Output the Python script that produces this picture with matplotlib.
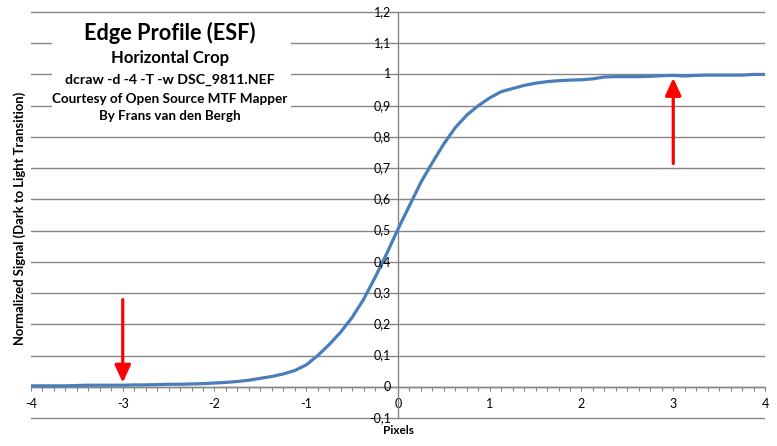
"""
Edge profile (ESF) chart, Excel style
"""
import numpy as np
import matplotlib
matplotlib.use("Agg")
import matplotlib.pyplot as plt
from matplotlib.patches import Rectangle
from matplotlib.ticker import FuncFormatter, MultipleLocator

# data: edge spread function, sampled every 1/8 pixel
pixels = np.arange(-4, 4.0001, 0.125)
signal = [0.003, 0.003, 0.003, 0.003, 0.004, 0.005, 0.005, 0.005,
          0.005, 0.006, 0.006, 0.007, 0.008, 0.008, 0.009, 0.010,
          0.012, 0.014, 0.017, 0.021, 0.027, 0.033, 0.041, 0.052,
          0.070, 0.100, 0.135, 0.175, 0.222, 0.280, 0.350, 0.425,
          0.505, 0.580, 0.655, 0.718, 0.778, 0.830, 0.870, 0.900,
          0.925, 0.945, 0.955, 0.965, 0.972, 0.977, 0.980, 0.982,
          0.983, 0.986, 0.992, 0.993, 0.993, 0.993, 0.994, 0.996,
          0.997, 0.995, 0.997, 0.998, 0.998, 0.998, 0.998, 1.000,
          1.000]

y_ticks = [-0.1, 0.0, 0.1, 0.2, 0.3, 0.4, 0.5, 0.6, 0.7, 0.8, 0.9, 1.0, 1.1, 1.2]
y_labels = ['-0,1', '0', '0,1', '0,2', '0,3', '0,4', '0,5', '0,6', '0,7',
            '0,8', '0,9', '1', '1,1', '1,2']

# red arrows: (x, tail value, tip value)
arrows = [(-3, 0.279, 0.013), (3, 0.715, 0.989)]

title_lines = ["Edge Profile (ESF)", "Horizontal Crop",
               "dcraw -d -4 -T -w DSC_9811.NEF",
               "Courtesy of Open Source MTF Mapper", "By Frans van den Bergh"]

plt.rcParams['font.family'] = ['Lato', 'DejaVu Sans']
grey = '#868686'

# -0.1 sits at pixel row 418, 1.2 at row 12
ppu = 406 / 1.3
y_lo, y_hi = -0.115, 1.205
bot_px = 418 + (-0.1 - y_lo) * ppu
top_px = 12 - (y_hi - 1.2) * ppu

fig = plt.figure(figsize=(7.77, 4.46), dpi=100)
ax = fig.add_axes([31 / 777, 1 - bot_px / 446, 734 / 777, (bot_px - top_px) / 446])
ax.set_xlim(-4, 4)
ax.set_ylim(y_lo, y_hi)

# horizontal grid and value labels (left of the vertical axis at x=0)
ax.set_yticks([])
for v, lab in zip(y_ticks, y_labels):
    ax.axhline(v, color=grey, lw=1.0, zorder=0.5)
    px, py = ax.transData.transform((0, v))
    fig.text((px - 7) / 777, py / 446, lab, ha='right', va='center', fontsize=9)

for s in ['top', 'right']:
    ax.spines[s].set_visible(False)
ax.spines['left'].set_position(('data', 0))
ax.spines['bottom'].set_position(('data', 0))
ax.spines['left'].set_bounds(-0.1, 1.2)
for s in ['left', 'bottom']:
    ax.spines[s].set_color(grey)
    ax.spines[s].set_linewidth(1.0)

ax.xaxis.set_major_locator(MultipleLocator(1))
ax.xaxis.set_minor_locator(MultipleLocator(0.125))
ax.xaxis.set_major_formatter(FuncFormatter(lambda v, p: '%d' % round(v)))
ax.tick_params(axis='x', which='both', direction='out', length=3, width=0.8,
               color=grey, labelsize=9, pad=5)

ax.plot(pixels, signal, color='#4A7EBB', lw=2.3, solid_capstyle='butt', zorder=3)

for x, tail, tip in arrows:
    ax.annotate('', xy=(x, tip), xytext=(x, tail),
                arrowprops=dict(arrowstyle='-|>,head_length=0.7,head_width=0.32',
                                color='red', lw=2.3, mutation_scale=15,
                                shrinkA=0, shrinkB=0), zorder=4)

# axis titles
fig.text(398 / 777, 1 - 431 / 446, 'Pixels', ha='center', va='center',
         fontsize=8.5, fontweight='bold')
fig.text(20 / 777, 1 - 218 / 446, 'Normalized Signal (Dark to Light Transition)',
         rotation=90, ha='center', va='center', fontsize=9.4, fontweight='bold')

# title box (white, covers the grid lines)
fig.add_artist(Rectangle((52 / 777, 1 - 130 / 446), 239 / 777, 115 / 446,
                         transform=fig.transFigure, facecolor='white',
                         edgecolor='none'))
sizes = [15.7, 12, 10.2, 9.7, 9.6]
ys = [33, 58, 80, 99, 116]
for t, s, y in zip(title_lines, sizes, ys):
    fig.text(170 / 777, 1 - y / 446, t, ha='center', va='center',
             fontsize=s, fontweight='bold')

plt.savefig("out.png", dpi=100)
